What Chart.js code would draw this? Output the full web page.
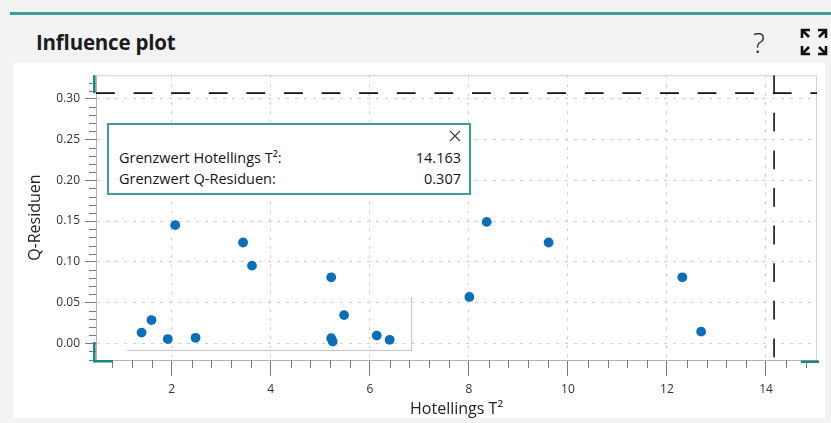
<!DOCTYPE html>
<html>
<head>
<meta charset="utf-8">
<script src="https://cdn.jsdelivr.net/npm/chart.js@4"></script>
<style>
  html, body { margin: 0; padding: 0; }
  body { width: 831px; height: 423px; background: #f3f3f3; position: relative; overflow: hidden;
         font-family: "Open Sans", "Noto Sans", sans-serif; color: #222; }
  .topline { position: absolute; left: 10px; top: 12px; width: 821px; height: 3px; background: #3a9f99; }
  .title { position: absolute; left: 36px; top: 28px; font-size: 20.5px; font-weight: 700; letter-spacing: -0.2px; color: #1c1c1c; }
  .help { position: absolute; left: 753px; top: 23px; font-size: 28px; font-weight: 300; color: #222; }
  .expand { position: absolute; left: 799px; top: 27px; }
  .panel { position: absolute; left: 13px; top: 63px; width: 812px; height: 355px; background: #fff; }
  .shadowbox { position: absolute; left: 127px; top: 297px; width: 284px; height: 53px;
               border-right: 1.5px solid #c4c4c4; border-bottom: 1.5px solid #c4c4c4; }
  #chart { position: absolute; left: 13px; top: 63px; }
  .limits { position: absolute; left: 107px; top: 123px; width: 360px; height: 68px; background: #fff;
            border: 2px solid #3a9f99; font-size: 14.5px; font-weight: 500; color: #151515; }
  .limits .close { position: absolute; right: 8px; top: 5px; }
  .limits .row { position: absolute; left: 10px; right: 8px; display: flex; justify-content: space-between; }
  .limits .r1 { top: 23px; }
  .limits .r2 { top: 44px; }
</style>
</head>
<body>
<div class="topline"></div>
<div class="title">Influence plot</div>
<div class="help">?</div>
<svg class="expand" width="30" height="30" viewBox="0 0 30 30" fill="none" stroke="#111" stroke-width="2.6">
  <path d="M3 11 V3 H11 M3 3 L10 10"/>
  <path d="M27 11 V3 H19 M27 3 L20 10"/>
  <path d="M3 19 V27 H11 M3 27 L10 20"/>
  <path d="M27 19 V27 H19 M27 27 L20 20"/>
</svg>
<div class="panel"></div>
<div class="shadowbox"></div>
<canvas id="chart" width="812" height="355"></canvas>
<div class="limits">
  <svg class="close" width="12" height="12" viewBox="0 0 12 12" stroke="#444" stroke-width="1.3">
    <path d="M1 1 L11 11 M11 1 L1 11"/>
  </svg>
  <div class="row r1"><span>Grenzwert Hotellings T²:</span><span id="t2Val"></span></div>
  <div class="row r2"><span>Grenzwert Q-Residuen:</span><span id="qVal"></span></div>
</div>
<script>
// Samples: Hotelling's T² (x) against Q residuals (y)
const hotellingT2 = [1.39, 1.59, 1.92, 2.07, 2.48, 3.44, 3.62, 5.22, 5.22, 5.25, 5.48, 6.14, 6.40, 8.01, 8.36, 9.61, 12.31, 12.69];
const qResiduals  = [0.0131, 0.0285, 0.0052, 0.1450, 0.0067, 0.1237, 0.0953, 0.0810, 0.0063, 0.0022, 0.0346, 0.0095, 0.0043, 0.0569, 0.1490, 0.1237, 0.0810, 0.0143];

// Critical limits
const T2_LIMIT = 14.163;
const Q_LIMIT = 0.307;

// Axis ranges and ticks
const xRange = [0.47, 15.03];
const yRange = [-0.0205, 0.329];
const xTicks = [2, 4, 6, 8, 10, 12, 14];
const yTicks = [0, 0.05, 0.10, 0.15, 0.20, 0.25, 0.30];
const xMinorStep = 0.4;
const yMinorStep = 0.01;

document.getElementById('t2Val').textContent = T2_LIMIT.toFixed(3);
document.getElementById('qVal').textContent = Q_LIMIT.toFixed(3);

const FONT = '"Open Sans", "Noto Sans", sans-serif';
const TEAL_DARK = '#1c877d';

// Light frame on the top and right side of the plot area
const framePlugin = {
  id: 'frame',
  beforeDatasetsDraw(chart) {
    const { ctx, chartArea: a } = chart;
    ctx.save();
    ctx.strokeStyle = '#d0d0d0';
    ctx.lineWidth = 1;
    ctx.beginPath();
    ctx.moveTo(a.left, a.top + 0.5);
    ctx.lineTo(a.right - 0.5, a.top + 0.5);
    ctx.lineTo(a.right - 0.5, a.bottom);
    ctx.stroke();
    ctx.restore();
  }
};

// Minor tick marks between the labelled ticks
const minorTicksPlugin = {
  id: 'minorTicks',
  afterDraw(chart) {
    const { ctx, chartArea: a, scales: { x, y } } = chart;
    ctx.save();
    ctx.strokeStyle = '#7a7a7a';
    ctx.lineWidth = 1;
    ctx.beginPath();
    for (let k = Math.ceil(x.min / xMinorStep); k * xMinorStep <= x.max; k++) {
      const v = k * xMinorStep;
      if (Math.abs(v / 2 - Math.round(v / 2)) < 1e-6) continue;
      const px = Math.round(x.getPixelForValue(v)) + 0.5;
      ctx.moveTo(px, a.bottom);
      ctx.lineTo(px, a.bottom + 8);
    }
    for (let k = Math.ceil(y.min / yMinorStep); k * yMinorStep <= y.max; k++) {
      const v = k * yMinorStep;
      if (Math.abs(v / 0.05 - Math.round(v / 0.05)) < 1e-6) continue;
      const py = Math.round(y.getPixelForValue(v)) + 0.5;
      ctx.moveTo(a.left - 7, py);
      ctx.lineTo(a.left, py);
    }
    ctx.stroke();
    ctx.restore();
  }
};

// Range handles at the ends of both axes
const handlesPlugin = {
  id: 'handles',
  afterDraw(chart) {
    const { ctx, chartArea: a } = chart;
    ctx.save();
    ctx.fillStyle = TEAL_DARK;
    ctx.fillRect(a.left - 3, a.top, 2.6, 18);
    ctx.fillRect(a.left - 3, a.bottom - 18, 2.6, 20.5);
    ctx.fillRect(a.left - 1, a.bottom, 18, 2.5);
    ctx.fillRect(a.right - 16, a.bottom + 0.5, 18, 2.5);
    ctx.restore();
  }
};

const scatterPoints = hotellingT2.map((t, i) => ({ x: t, y: qResiduals[i] }));

new Chart(document.getElementById('chart'), {
  type: 'scatter',
  data: {
    datasets: [
      {
        label: 'Proben',
        data: scatterPoints,
        backgroundColor: '#0a6fb8',
        borderWidth: 0,
        pointRadius: 4.9,
        pointHoverRadius: 4.9
      },
      {
        label: 'Grenzwert Hotellings T²',
        data: [{ x: T2_LIMIT, y: yRange[1] }, { x: T2_LIMIT, y: yRange[0] }],
        showLine: true,
        borderColor: '#111',
        borderWidth: 1.6,
        borderDash: [18.8, 18.8],
        pointRadius: 0,
        fill: false
      },
      {
        label: 'Grenzwert Q-Residuen',
        data: [{ x: xRange[0], y: Q_LIMIT }, { x: xRange[1], y: Q_LIMIT }],
        showLine: true,
        borderColor: '#111',
        borderWidth: 1.6,
        borderDash: [18.8, 18.8],
        pointRadius: 0,
        fill: false
      }
    ]
  },
  options: {
    responsive: false,
    animation: false,
    layout: { padding: { top: 10, right: 8, left: 0, bottom: 0 } },
    plugins: { legend: { display: false }, tooltip: { enabled: false } },
    scales: {
      x: {
        type: 'linear',
        min: xRange[0],
        max: xRange[1],
        afterBuildTicks: s => { s.ticks = xTicks.map(v => ({ value: v })); },
        afterFit: s => { s.height = 58; },
        ticks: { color: '#333', font: { family: FONT, size: 12 }, padding: 6, maxRotation: 0,
                 callback: v => String(v) },
        grid: { color: '#cfcfcf', lineWidth: 1, tickLength: 16, tickColor: '#7a7a7a' },
        border: { display: true, color: '#b4b4b4', width: 1, dash: [3, 6] },
        title: { display: true, text: 'Hotellings T²', color: '#222',
                 font: { family: FONT, size: 16 }, padding: { top: 0, bottom: -1 } }
      },
      y: {
        type: 'linear',
        min: yRange[0],
        max: yRange[1],
        afterBuildTicks: s => { s.ticks = yTicks.map(v => ({ value: v })); },
        afterFit: s => { s.width = 83; },
        ticks: { color: '#333', font: { family: FONT, size: 12 }, padding: 5,
                 callback: v => Number(v).toFixed(2) },
        grid: { color: '#cfcfcf', lineWidth: 1, tickLength: 11, tickColor: '#7a7a7a' },
        border: { display: true, color: '#b4b4b4', width: 1, dash: [3, 6] },
        title: { display: true, text: 'Q-Residuen', color: '#222',
                 font: { family: FONT, size: 16 }, padding: { top: 13, bottom: 0 } }
      }
    }
  },
  plugins: [framePlugin, minorTicksPlugin, handlesPlugin]
});
</script>
</body>
</html>
